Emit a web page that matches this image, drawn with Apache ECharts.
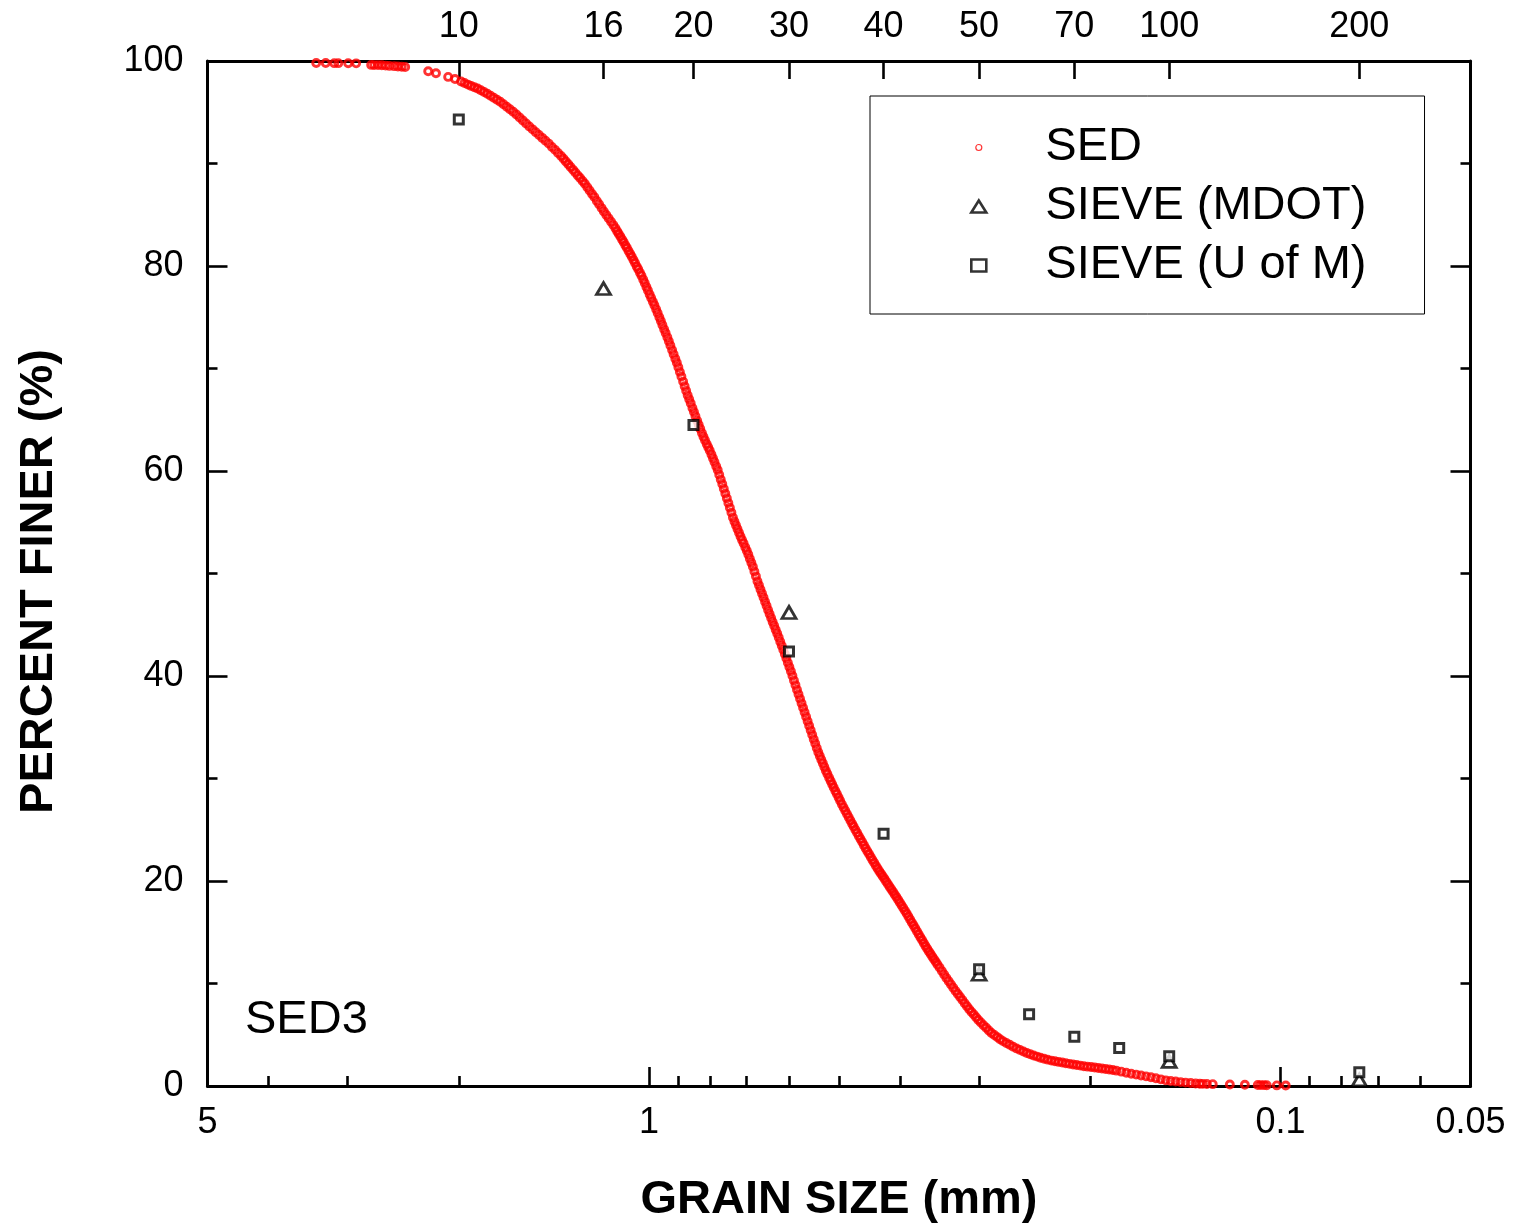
<!DOCTYPE html>
<html>
<head>
<meta charset="utf-8">
<title>SED3 grain size distribution</title>
<script src="https://cdn.jsdelivr.net/npm/echarts@6/dist/echarts.min.js"></script>
<style>
  html, body { margin: 0; padding: 0; background: #ffffff; }
  #chart { width: 1523px; height: 1229px; }
</style>
</head>
<body>
<div id="chart"></div>
<script>
// Settling-tube (SED) record: grain size in phi units (d = 2^-phi mm) and percent finer
const sedPhi = [
  -1.750, -1.700, -1.655, -1.634, -1.582, -1.540,
  -1.461, -1.445, -1.425, -1.405, -1.385, -1.365, -1.340, -1.320, -1.300, -1.282,
  -1.161, -1.120, -1.056, -1.020, -0.988,
  -0.970, -0.952, -0.935, -0.918, -0.901, -0.884, -0.867, -0.850, -0.833, -0.816,
  -0.799, -0.782, -0.765, -0.748, -0.731, -0.714, -0.697, -0.680, -0.663, -0.646,
  -0.629, -0.612, -0.595, -0.578, -0.561, -0.544, -0.527, -0.510, -0.494, -0.478,
  -0.462, -0.449, -0.437, -0.424, -0.412, -0.399, -0.387, -0.374, -0.362, -0.349,
  -0.337, -0.324, -0.312, -0.299, -0.287, -0.274, -0.262, -0.249, -0.237, -0.224,
  -0.212, -0.199, -0.187,
  -0.176, -0.167, -0.159, -0.150, -0.141,
  -0.133, -0.124, -0.116, -0.107, -0.098,
  -0.090, -0.081, -0.073, -0.064, -0.056, -0.047,
  -0.039, -0.030, -0.022, -0.013, -0.005,
  0.004, 0.012, 0.021, 0.029, 0.038,
  0.046, 0.055, 0.063,
  0.071, 0.080, 0.088, 0.097,
  0.105, 0.113, 0.122, 0.130, 0.139, 0.147,
  0.155, 0.163, 0.171, 0.180, 0.188, 0.196,
  0.204, 0.212, 0.220, 0.229, 0.237, 0.245, 0.254,
  0.262, 0.270, 0.279, 0.287,
  0.295, 0.304, 0.312, 0.320,
  0.329, 0.337, 0.345, 0.354,
  0.362, 0.370, 0.378, 0.386,
  0.394, 0.402, 0.410, 0.418, 0.426, 0.434, 0.442,
  0.450, 0.458, 0.466, 0.474,
  0.482, 0.490, 0.498, 0.507, 0.515,
  0.523, 0.531, 0.539, 0.547,
  0.555, 0.563,
  0.571, 0.579, 0.587, 0.595, 0.603,
  0.611, 0.619, 0.627, 0.635,
  0.643, 0.651, 0.659, 0.667, 0.675,
  0.683, 0.691, 0.699, 0.707,
  0.715, 0.723, 0.731, 0.739, 0.747,
  0.755, 0.763, 0.771, 0.779,
  0.787, 0.795, 0.803, 0.811, 0.819, 0.827, 0.835,
  0.843, 0.851, 0.859, 0.867, 0.875, 0.883,
  0.891, 0.899, 0.907, 0.915, 0.923,
  0.931, 0.939, 0.948, 0.956, 0.964,
  0.972, 0.981, 0.989, 0.998, 1.006, 1.015,
  1.024, 1.033, 1.042, 1.051, 1.060, 1.069, 1.077,
  1.086, 1.095, 1.104, 1.113, 1.122, 1.131,
  1.140, 1.149, 1.158, 1.167, 1.176, 1.185, 1.194,
  1.203, 1.212, 1.221, 1.230, 1.239, 1.248,
  1.257, 1.266, 1.275, 1.284, 1.293, 1.302,
  1.311, 1.320, 1.329, 1.338, 1.347, 1.356,
  1.365, 1.374, 1.383, 1.392, 1.401,
  1.410, 1.419, 1.428, 1.437, 1.446, 1.455,
  1.464, 1.473, 1.482, 1.491, 1.500, 1.509, 1.518,
  1.529, 1.541, 1.553, 1.565, 1.577, 1.589, 1.601, 1.613, 1.625, 1.637, 1.649, 1.661, 1.673,
  1.685, 1.697, 1.709, 1.721, 1.733, 1.746, 1.760, 1.774, 1.788, 1.802, 1.817, 1.832, 1.847,
  1.862, 1.880, 1.898, 1.916, 1.934, 1.952, 1.970, 1.988, 2.006, 2.024, 2.042,
  2.060, 2.079, 2.098, 2.117, 2.136, 2.155, 2.174, 2.193, 2.212, 2.231, 2.250,
  2.269, 2.288, 2.307, 2.326, 2.345, 2.364, 2.383, 2.402, 2.421, 2.440, 2.459,
  2.485, 2.511, 2.537, 2.563, 2.589, 2.615, 2.641, 2.667, 2.693, 2.719, 2.745, 2.771, 2.797, 2.823, 2.850, 2.876,
  2.898, 2.914, 2.935, 2.966, 3.056, 3.135, 3.203, 3.219, 3.235, 3.250, 3.303, 3.350
];
const sedFiner = [
  99.80, 99.80, 99.79, 99.79, 99.78, 99.77,
  99.62, 99.60, 99.60, 99.58, 99.55, 99.52, 99.50, 99.47, 99.44, 99.42,
  99.00, 98.80, 98.45, 98.25, 98.00,
  97.85, 97.70, 97.57, 97.44, 97.31, 97.14, 96.97, 96.80, 96.61, 96.41,
  96.22, 96.02, 95.79, 95.54, 95.30, 95.06, 94.78, 94.49, 94.20, 93.91,
  93.62, 93.33, 93.06, 92.78, 92.50, 92.23, 91.94, 91.62, 91.33, 91.03,
  90.74, 90.46, 90.20, 89.92, 89.66, 89.38, 89.12, 88.84, 88.58, 88.30,
  88.02, 87.69, 87.37, 87.03, 86.72, 86.35, 86.02, 85.65, 85.31, 84.97,
  84.65, 84.31, 83.99,
  83.68, 83.40, 83.15, 82.87, 82.59,
  82.33, 82.03, 81.77, 81.47, 81.17,
  80.90, 80.58, 80.29, 79.96, 79.68, 79.35,
  79.06, 78.68, 78.34, 77.95, 77.61,
  77.23, 76.89, 76.51, 76.17, 75.79,
  75.42, 75.00, 74.63,
  74.25, 73.83, 73.46, 73.04,
  72.65, 72.25, 71.80, 71.40, 70.95, 70.55,
  70.12, 69.67, 69.22, 68.72, 68.27, 67.82,
  67.40, 67.00, 66.60, 66.15, 65.75, 65.35, 64.90,
  64.51, 64.13, 63.71, 63.34,
  63.00, 62.64, 62.32, 62.00,
  61.62, 61.25, 60.89, 60.47,
  60.09, 59.63, 59.18, 58.73,
  58.27, 57.80, 57.34, 56.87, 56.41, 55.94, 55.47,
  55.07, 54.71, 54.34, 53.97,
  53.62, 53.28, 52.94, 52.55, 52.21,
  51.85, 51.45, 51.05, 50.65,
  50.20, 49.72,
  49.25, 48.85, 48.45, 48.05, 47.65,
  47.25, 46.85, 46.45, 46.05,
  45.66, 45.28, 44.90, 44.52, 44.14,
  43.75, 43.35, 42.95, 42.55,
  42.14, 41.72, 41.30, 40.88, 40.46,
  40.02, 39.56, 39.11, 38.66,
  38.22, 37.78, 37.34, 36.90, 36.46, 36.02, 35.58,
  35.14, 34.71, 34.27, 33.84, 33.41, 32.98,
  32.56, 32.20, 31.84, 31.48, 31.12,
  30.76, 30.44, 30.08, 29.76, 29.44,
  29.12, 28.78, 28.48, 28.14, 27.83, 27.49,
  27.16, 26.85, 26.53, 26.22, 25.90, 25.59, 25.31,
  25.00, 24.70, 24.40, 24.10, 23.80, 23.50,
  23.20, 22.91, 22.63, 22.34, 22.06, 21.78, 21.49,
  21.22, 20.96, 20.71, 20.46, 20.21, 19.96,
  19.70, 19.45, 19.19, 18.94, 18.68, 18.43,
  18.17, 17.90, 17.63, 17.36, 17.09, 16.82,
  16.54, 16.25, 15.96, 15.68, 15.39,
  15.10, 14.81, 14.52, 14.24, 13.95, 13.66,
  13.39, 13.13, 12.88, 12.62, 12.37, 12.11, 11.86,
  11.55, 11.21, 10.88, 10.54, 10.22, 9.91, 9.59, 9.28, 8.98, 8.68, 8.38, 8.08, 7.78,
  7.49, 7.23, 6.97, 6.71, 6.45, 6.19, 5.93, 5.68, 5.42, 5.17, 4.97, 4.77, 4.57,
  4.38, 4.20, 4.02, 3.84, 3.67, 3.52, 3.37, 3.22, 3.10, 2.98, 2.87,
  2.76, 2.66, 2.57, 2.48, 2.41, 2.35, 2.29, 2.22, 2.16, 2.10, 2.05,
  1.99, 1.93, 1.89, 1.85, 1.80, 1.76, 1.71, 1.66, 1.61, 1.56, 1.50,
  1.40, 1.30, 1.20, 1.11, 1.02, 0.94, 0.85, 0.75, 0.65, 0.55, 0.49, 0.44, 0.38, 0.33, 0.29, 0.25,
  0.22, 0.21, 0.20, 0.18, 0.15, 0.12, 0.10, 0.09, 0.09, 0.08, 0.06, 0.05
];

// Sieve analyses: opening (mm) and percent passing
const mdotSizeMm = [1.18, 0.6, 0.3, 0.15, 0.075];
const mdotFiner  = [77.8, 46.2, 10.9, 2.4, 0.6];
const umSizeMm = [2.0, 0.85, 0.6, 0.425, 0.3, 0.25, 0.212, 0.18, 0.15, 0.075];
const umFiner  = [94.3, 64.5, 42.4, 24.6, 11.4, 7.0, 4.8, 3.7, 2.9, 1.35];

// US standard sieve numbers along the top and their openings (mm)
const sieveNumbers  = ['10', '16', '20', '30', '40', '50', '70', '100', '200'];
const sieveOpenings = [2.0, 1.18, 0.85, 0.6, 0.425, 0.3, 0.212, 0.15, 0.075];

// Grain-size axis ticks (mm)
const sizeTickLabels = [5, 1, 0.1, 0.05];
const sizeMajorTicks = [1, 0.1];
const sizeMinorTicks = [4, 3, 2, 0.9, 0.8, 0.7, 0.6, 0.5, 0.4, 0.3, 0.2, 0.09, 0.08, 0.07, 0.06];

const FONT = 'Arial, "Liberation Sans", Helvetica, sans-serif';
const INK = '#000000';
const SED_RED = '#ff0000';

const sedData = sedPhi.map((phi, i) => [Math.pow(2, -phi), sedFiner[i]]);
const mdotData = mdotSizeMm.map((d, i) => [d, mdotFiner[i]]);
const umData = umSizeMm.map((d, i) => [d, umFiner[i]]);

function formatSize(v) {
  return String(parseFloat(Number(v).toPrecision(6)));
}
function sieveLabel(v) {
  let best = 0, bestDist = Infinity;
  sieveOpenings.forEach((o, i) => {
    const dist = Math.abs(Math.log(o) - Math.log(v));
    if (dist < bestDist) { bestDist = dist; best = i; }
  });
  return sieveNumbers[best];
}

const sizeAxisBase = {
  type: 'log', logBase: 10, min: 0.05, max: 5, inverse: true,
  gridIndex: 0,
  splitLine: { show: false },
  minorTick: { show: false },
  minorSplitLine: { show: false }
};
const tickLine = { color: INK, width: 2.6 };
const axisLine = { show: true, onZero: false, lineStyle: { color: INK, width: 3 } };

const percentAxisBase = {
  type: 'value', min: 0, max: 100, interval: 20,
  splitLine: { show: false },
  axisLine: axisLine,
  axisTick: { show: true, inside: true, length: 20, lineStyle: tickLine },
  minorTick: { show: true, splitNumber: 2, length: 10, lineStyle: tickLine }
};

// small legend circle: the two leading moves fix a 24x24 frame around a r=6 ring
const sedLegendIcon = 'path://M0,0M24,24M18,12A6,6,0,1,1,6,12A6,6,0,1,1,18,12Z';

const chart = echarts.init(document.getElementById('chart'), null, { renderer: 'canvas' });

chart.setOption({
  animation: false,
  backgroundColor: '#ffffff',
  grid: { left: 207.5, right: 52.5, top: 61, bottom: 141, containLabel: false },
  xAxis: [
    Object.assign({}, sizeAxisBase, {
      position: 'bottom',
      axisLine: axisLine,
      axisTick: { show: true, inside: true, length: 19, lineStyle: tickLine, customValues: sizeMajorTicks },
      axisLabel: {
        show: true, customValues: sizeTickLabels, formatter: formatSize,
        color: INK, fontSize: 36, fontFamily: FONT, margin: 19
      },
      name: 'GRAIN SIZE (mm)', nameLocation: 'middle', nameGap: 91,
      nameTextStyle: { fontSize: 47, fontWeight: 'bold', color: INK, fontFamily: FONT }
    }),
    Object.assign({}, sizeAxisBase, {
      position: 'bottom',
      axisLine: { show: false },
      axisTick: { show: true, inside: true, length: 10, lineStyle: tickLine, customValues: sizeMinorTicks },
      axisLabel: { show: false }
    }),
    Object.assign({}, sizeAxisBase, {
      position: 'top',
      axisLine: axisLine,
      axisTick: { show: true, inside: true, length: 18, lineStyle: tickLine, customValues: sieveOpenings },
      axisLabel: {
        show: true, customValues: sieveOpenings, formatter: sieveLabel,
        color: INK, fontSize: 36, fontFamily: FONT, margin: 16
      }
    })
  ],
  yAxis: [
    Object.assign({}, percentAxisBase, {
      position: 'left',
      axisLabel: { color: INK, fontSize: 36, fontFamily: FONT, margin: 24 },
      name: 'PERCENT FINER (%)', nameLocation: 'middle', nameGap: 145,
      nameTextStyle: { fontSize: 47, fontWeight: 'bold', color: INK, fontFamily: FONT, padding: [0, 16, 0, 0] }
    }),
    Object.assign({}, percentAxisBase, {
      position: 'right',
      axisLabel: { show: false }
    })
  ],
  legend: {
    orient: 'vertical',
    left: 870, top: 96,
    padding: [28, 58, 25, 100],
    itemWidth: 15, itemHeight: 12, itemGap: 12,
    backgroundColor: '#ffffff',
    borderColor: INK, borderWidth: 1,
    selectedMode: false,
    textStyle: { fontSize: 47, color: INK, fontFamily: FONT, lineHeight: 46, padding: [0, 0, 0, 54] },
    data: [
      { name: 'SED', icon: sedLegendIcon, itemStyle: { borderWidth: 1.2 } },
      { name: 'SIEVE (MDOT)', itemStyle: { borderWidth: 2.6 } },
      { name: 'SIEVE (U of M)', itemStyle: { borderWidth: 2.6 } }
    ]
  },
  graphic: [{
    type: 'text', left: 245, top: 997, silent: true,
    style: { text: 'SED3', fontSize: 47, fontFamily: FONT, fill: INK }
  }],
  series: [
    {
      name: 'SED', type: 'scatter', xAxisIndex: 0, yAxisIndex: 0,
      data: sedData, symbol: 'circle', symbolSize: 7, silent: true, z: 2,
      itemStyle: { color: 'rgba(255,255,255,0)', borderColor: SED_RED, borderWidth: 2.9 }
    },
    {
      name: 'SIEVE (MDOT)', type: 'scatter', xAxisIndex: 0, yAxisIndex: 0,
      data: mdotData, symbol: 'triangle', symbolSize: [14, 12], silent: true, z: 3,
      itemStyle: { color: '#ffffff', borderColor: INK, borderWidth: 2.8 }
    },
    {
      name: 'SIEVE (U of M)', type: 'scatter', xAxisIndex: 0, yAxisIndex: 0,
      data: umData, symbol: 'rect', symbolSize: 9, silent: true, z: 4,
      itemStyle: { color: '#ffffff', borderColor: INK, borderWidth: 3 }
    }
  ]
});
</script>
</body>
</html>
